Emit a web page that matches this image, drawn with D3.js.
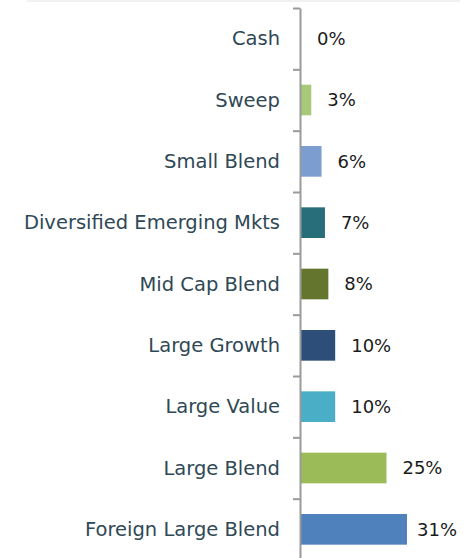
<!DOCTYPE html>
<html>
<head>
  <meta charset="utf-8">
  <script src="https://cdnjs.cloudflare.com/ajax/libs/d3/7.8.5/d3.min.js"></script>
  <style>
    body { margin: 0; background: #fff; }
    text { font-family: "Century Gothic", "DejaVu Sans", sans-serif; }
  </style>
</head>
<body>
  <script>
    const categories = ['Cash', 'Sweep', 'Small Blend', 'Diversified Emerging Mkts', 'Mid Cap Blend',
      'Large Growth', 'Large Value', 'Large Blend', 'Foreign Large Blend']
    const values = [0, 3, 6, 7, 8, 10, 10, 25, 31]
    const labels = ['0%', '3%', '6%', '7%', '8%', '10%', '10%', '25%', '31%']
    const colors = ['#b0cb7c', '#a9c97a', '#7b9dd0', '#276d7a', '#64752e', '#2d4e78', '#4aaec6', '#9bbb59', '#4f81bd']

    const width = 471, height = 558
    const axisX = 300, plotTop = 8, plotBottom = 560, labelRight = 457

    const svg = d3.select('body')
      .append('svg')
      .attr('width', width)
      .attr('height', height)

    // faint line left over at the very top
    svg.append('line')
      .attr('x1', 27).attr('x2', 460)
      .attr('y1', 1).attr('y2', 1)
      .attr('stroke', '#ececec')
      .attr('stroke-width', 1.5)

    const yScale = d3.scaleBand()
      .domain(categories)
      .range([plotTop, plotBottom])
      .paddingInner(0.5)
      .paddingOuter(0.25)

    const xScale = d3.scaleLinear()
      .domain([0, 31])
      .range([0, 106])

    // bars
    svg.selectAll('rect.bar')
      .data(values)
      .enter()
      .append('rect')
      .attr('class', 'bar')
      .attr('x', axisX + 1)
      .attr('y', (d, i) => yScale(categories[i]))
      .attr('width', d => xScale(d))
      .attr('height', yScale.bandwidth())
      .attr('fill', (d, i) => colors[i])

    // value labels (kept inside the chart area like the original)
    svg.selectAll('text.val')
      .data(values)
      .enter()
      .append('text')
      .attr('class', 'val')
      .attr('x', d => axisX + 1 + xScale(d) + 16)
      .attr('y', (d, i) => yScale(categories[i]) + yScale.bandwidth() / 2)
      .attr('dy', '0.35em')
      .attr('font-size', 18)
      .attr('fill', '#1a1a1a')
      .text((d, i) => labels[i])
      .each(function () {
        const w = this.getComputedTextLength()
        const x = +this.getAttribute('x')
        if (x + w > labelRight) this.setAttribute('x', labelRight - w)
      })

    // category labels
    svg.selectAll('text.cat')
      .data(categories)
      .enter()
      .append('text')
      .attr('class', 'cat')
      .attr('x', axisX - 20)
      .attr('y', d => yScale(d) + yScale.bandwidth() / 2)
      .attr('dy', '0.35em')
      .attr('text-anchor', 'end')
      .attr('font-size', 19.5)
      .attr('fill', '#2f4855')
      .text(d => d)

    // axis with ticks at band boundaries
    const edgeScale = d3.scaleLinear()
      .domain([0, categories.length])
      .range([plotTop, plotBottom])
    const yAxis = d3.axisLeft(edgeScale)
      .tickValues(d3.range(0, categories.length + 1))
      .tickSize(7)
      .tickSizeOuter(0)
      .tickFormat('')
    const g = svg.append('g')
      .attr('transform', `translate(${axisX},0)`)
      .call(yAxis)
    g.selectAll('path, line')
      .attr('stroke', '#9a9a9a')
      .attr('stroke-width', 2)
  </script>
</body>
</html>
